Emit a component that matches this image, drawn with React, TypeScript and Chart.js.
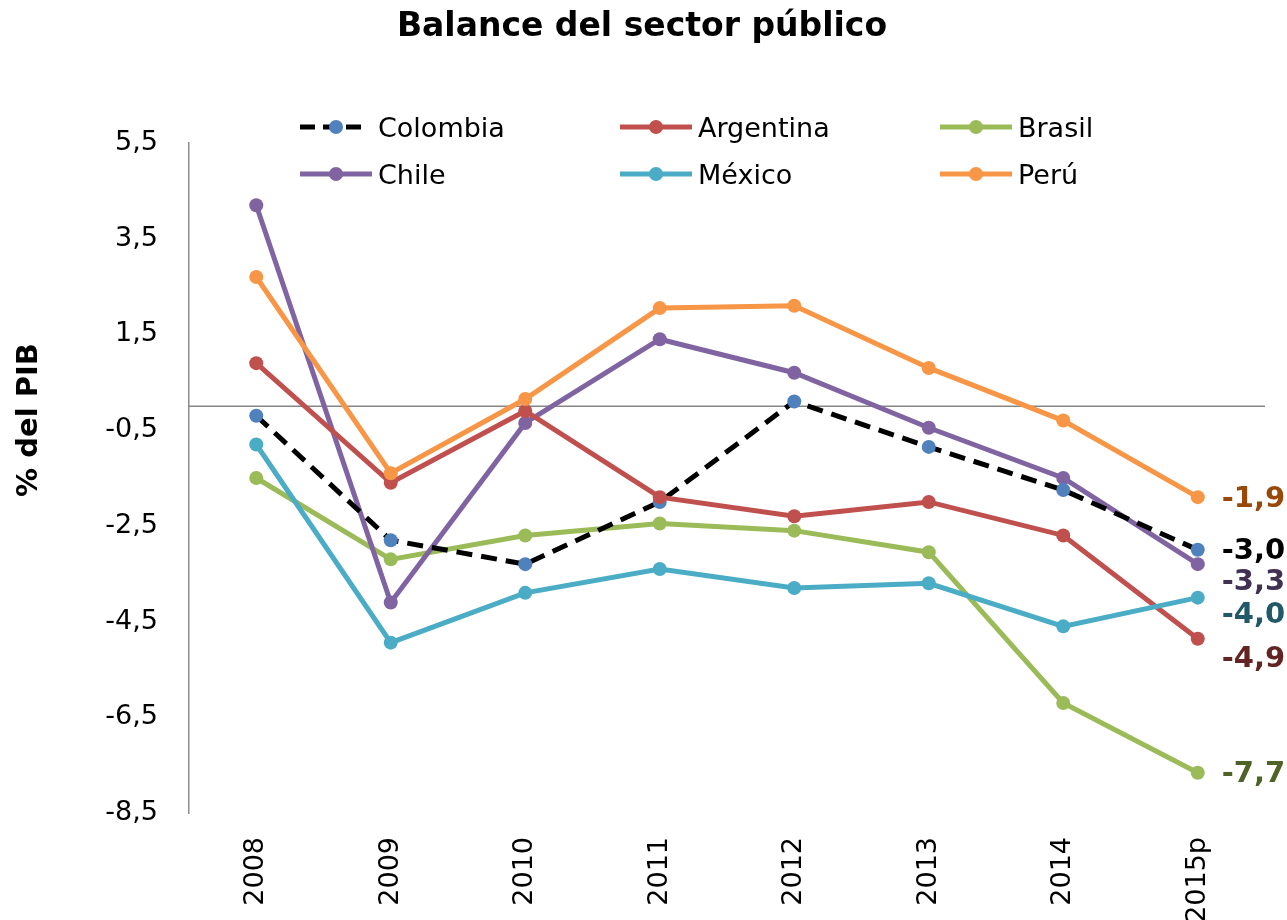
import React, { useEffect, useRef } from "react";
import { Chart, registerables } from "chart.js";

Chart.register(...registerables);

const categories = ["2008", "2009", "2010", "2011", "2012", "2013", "2014", "2015p"];
const seriesNames = ["Colombia", "Argentina", "Brasil", "Chile", "México", "Perú"];
const colombia = [-0.2, -2.8, -3.3, -2.0, 0.1, -0.85, -1.75, -3.0];
const argentina = [0.9, -1.6, -0.1, -1.9, -2.3, -2.0, -2.7, -4.86];
const brasil = [-1.5, -3.2, -2.7, -2.45, -2.6, -3.05, -6.2, -7.66];
const chile = [4.2, -4.1, -0.35, 1.4, 0.7, -0.45, -1.5, -3.3];
const mexico = [-0.8, -4.94, -3.9, -3.4, -3.8, -3.7, -4.6, -4.0];
const peru = [2.7, -1.4, 0.15, 2.05, 2.1, 0.8, -0.3, -1.9];
const yTicks = [-8.5, -6.5, -4.5, -2.5, -0.5, 1.5, 3.5, 5.5];

const FONT = "'DejaVu Sans', sans-serif";

const lineColors = ["#000000", "#C0504D", "#9BBB59", "#8064A2", "#4BACC6", "#F79646"];
const pointColors = ["#4F81BD", "#C0504D", "#9BBB59", "#8064A2", "#4BACC6", "#F79646"];
const labelColors = ["#000000", "#632523", "#4F6228", "#403152", "#215968", "#984807"];
const drawOrder = [3, 2, 5, 4, 1, 0];
const labelNudge = [2, 21, 2, 18, 18, 2];

const fmt = (v: number) => v.toFixed(1).replace(".", ",").replace(/^-0,0$/, "0,0");

const overlayPlugin = {
  id: "overlay",
  beforeDatasetsDraw(chart: any) {
    const { ctx, chartArea, scales } = chart;
    const y0 = scales.y.getPixelForValue(0);
    ctx.save();
    ctx.strokeStyle = "#868686";
    ctx.lineWidth = 1.5;
    ctx.beginPath();
    ctx.moveTo(chartArea.left, y0);
    ctx.lineTo(chartArea.right, y0);
    ctx.stroke();
    ctx.restore();
  },
  afterDraw(chart: any) {
    const { ctx, scales } = chart;
    ctx.save();
    // Title
    ctx.fillStyle = "#000";
    ctx.font = `bold 33px ${FONT}`;
    ctx.textAlign = "center";
    ctx.textBaseline = "alphabetic";
    ctx.fillText("Balance del sector público", 642, 36);

    // Y axis title
    ctx.save();
    ctx.translate(37, 420);
    ctx.rotate(-Math.PI / 2);
    ctx.font = `bold 29px ${FONT}`;
    ctx.textAlign = "center";
    ctx.fillText("% del PIB", 0, 0);
    ctx.restore();

    // Legend
    const dsets = chart.data.datasets;
    dsets.forEach((ds: any, i: number) => {
      const col = i % 3;
      const row = Math.floor(i / 3);
      const x0 = 300 + col * 320;
      const y = 127 + row * 47;
      const dashed = ds.borderDash && ds.borderDash.length;
      ctx.save();
      ctx.strokeStyle = ds.borderColor;
      ctx.lineWidth = 5;
      ctx.lineCap = "butt";
      if (dashed) ctx.setLineDash([15, 8]);
      ctx.beginPath();
      ctx.moveTo(x0, y);
      ctx.lineTo(x0 + (dashed ? 62 : 72), y);
      ctx.stroke();
      ctx.setLineDash([]);
      ctx.fillStyle = ds.pointBackgroundColor;
      ctx.beginPath();
      ctx.arc(x0 + 36, y, 7, 0, Math.PI * 2);
      ctx.fill();
      ctx.fillStyle = "#000";
      ctx.font = `27px ${FONT}`;
      ctx.textAlign = "left";
      ctx.textBaseline = "alphabetic";
      ctx.fillText(ds.label, x0 + 78, y + 10);
      ctx.restore();
    });

    // End labels
    dsets.forEach((ds: any, i: number) => {
      const last = ds.data.length - 1;
      const v = ds.data[last];
      const x = scales.x.getPixelForValue(last) + 24;
      const y = scales.y.getPixelForValue(v) + labelNudge[i];
      ctx.fillStyle = labelColors[i];
      ctx.font = `bold 29px ${FONT}`;
      ctx.textAlign = "left";
      ctx.textBaseline = "middle";
      ctx.fillText(fmt(v), x, y);
    });
    ctx.restore();
  },
};

export default function App() {
  const canvasRef = useRef<HTMLCanvasElement | null>(null);

  useEffect(() => {
    document.body.style.margin = "0";
    const canvas = canvasRef.current;
    if (!canvas) return;
    const values = [colombia, argentina, brasil, chile, mexico, peru];
    const datasets = values.map((data, i) => ({
      label: seriesNames[i],
      data,
      borderColor: lineColors[i],
      backgroundColor: pointColors[i],
      pointBackgroundColor: pointColors[i],
      pointBorderColor: pointColors[i],
      pointBorderWidth: 0,
      pointRadius: 7,
      borderWidth: 5,
      borderDash: i === 0 ? [16, 9] : [],
      borderCapStyle: "butt" as const,
      tension: 0,
      fill: false,
      order: drawOrder[i],
    }));

    const chart = new Chart(canvas, {
      type: "line",
      data: { labels: categories, datasets },
      plugins: [overlayPlugin],
      options: {
        responsive: false,
        animation: false,
        devicePixelRatio: 1,
        layout: { padding: { top: 143, right: 22, left: 0, bottom: 0 } },
        plugins: {
          legend: { display: false },
          title: { display: false },
          tooltip: { enabled: false },
        },
        scales: {
          x: {
            type: "category",
            offset: true,
            grid: { display: false, drawTicks: false },
            border: { display: false },
            ticks: {
              autoSkip: false,
              maxRotation: 90,
              minRotation: 90,
              padding: 24,
              color: "#000",
              font: { family: FONT, size: 27 },
            },
            afterFit: (s: any) => {
              s.height = 107;
            },
          },
          y: {
            type: "linear",
            min: -8.5,
            max: 5.5,
            grid: { display: false, drawTicks: false },
            border: { display: true, color: "#8c8c8c", width: 1.5 },
            afterBuildTicks: (s: any) => {
              s.ticks = yTicks.map((v) => ({ value: v }));
            },
            ticks: {
              padding: 31,
              color: "#000",
              font: { family: FONT, size: 27 },
              callback: (v: any) => fmt(Number(v)),
            },
            afterFit: (s: any) => {
              s.width = 189;
            },
          },
        },
      },
    });
    return () => chart.destroy();
  }, []);

  return (
    <div style={{ position: "absolute", left: 0, top: 0 }}>
      <canvas ref={canvasRef} width={1287} height={920} style={{ display: "block" }} />
    </div>
  );
}
